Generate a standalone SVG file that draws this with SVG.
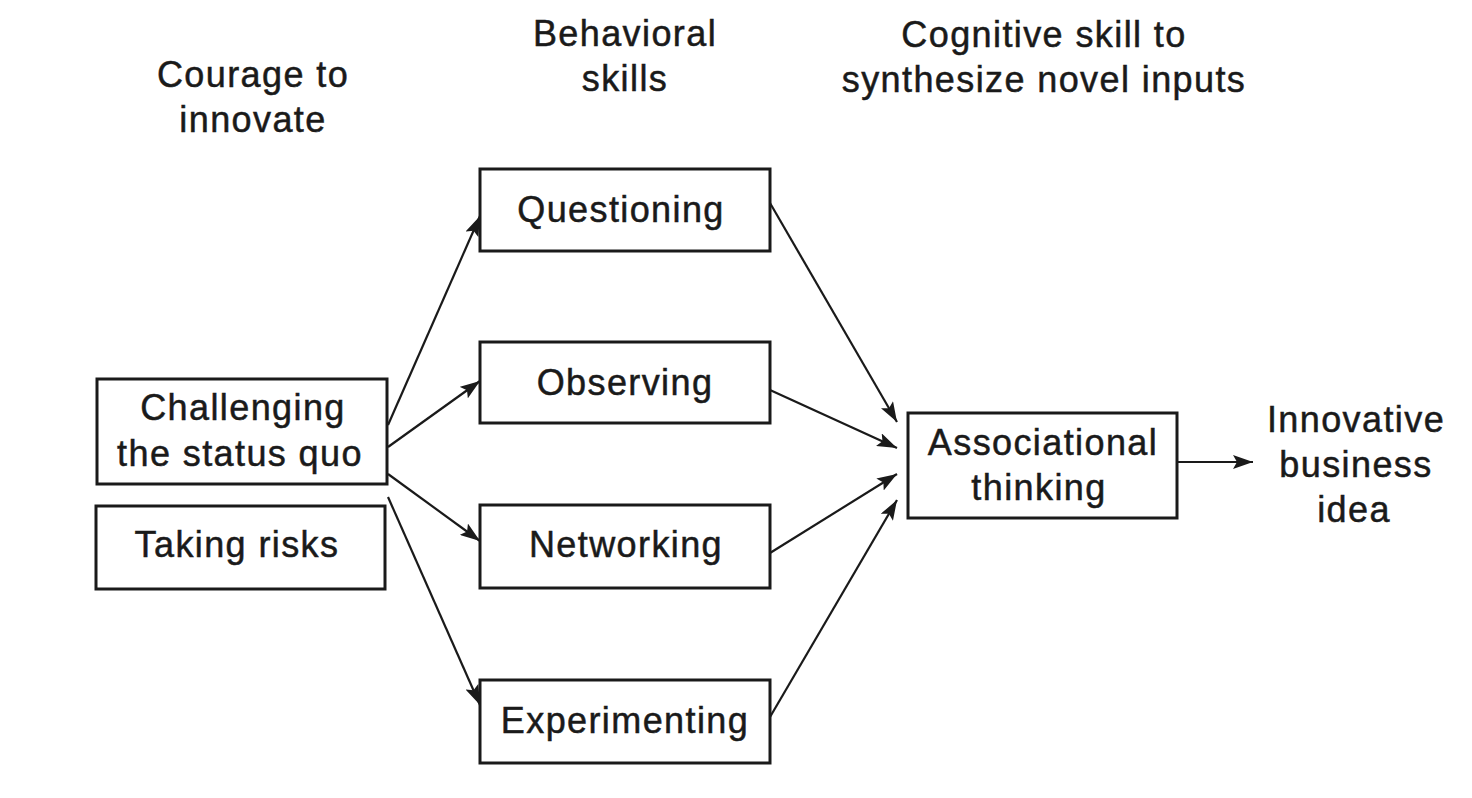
<svg xmlns="http://www.w3.org/2000/svg" width="1472" height="798" viewBox="0 0 1472 798">
<style>
text{font-family:"Liberation Sans",Arial,sans-serif;font-size:36px;letter-spacing:1.4px;fill:#1a1a1a;stroke:#1a1a1a;stroke-width:0.5;text-anchor:middle}
.box{fill:#fff;stroke:#1a1a1a;stroke-width:3}
.c{stroke:#1a1a1a;stroke-width:2.2;fill:none;marker-end:url(#ah)}
</style>
<defs>
<marker id="ah" markerUnits="userSpaceOnUse" markerWidth="22" markerHeight="14" refX="20" refY="7" orient="auto">
<path d="M0,0 L20,7 L0,14 L4,7 Z" fill="#1a1a1a"/>
</marker>
</defs>
<rect width="1472" height="798" fill="#fff"/>
<g id="titles">
<text x="253" y="87">Courage to</text>
<text x="253" y="132">innovate</text>
<text x="625" y="46">Behavioral</text>
<text x="625" y="91">skills</text>
<text x="1044" y="47">Cognitive skill to</text>
<text x="1044" y="92">synthesize novel inputs</text>
</g>
<g id="connectors">
<line class="c" x1="388" y1="425" x2="480" y2="216"/>
<line class="c" x1="388" y1="447" x2="480" y2="381"/>
<line class="c" x1="388" y1="474" x2="480" y2="541"/>
<line class="c" x1="388" y1="497" x2="480" y2="705"/>
<line class="c" x1="770" y1="203" x2="897" y2="422"/>
<line class="c" x1="770" y1="390" x2="897" y2="448"/>
<line class="c" x1="770" y1="553" x2="897" y2="474"/>
<line class="c" x1="770" y1="717" x2="897" y2="500"/>
<line class="c" x1="1178" y1="462" x2="1253" y2="462"/>
</g>
<g id="challenging">
<rect class="box" x="97" y="379" width="290" height="105"/>
<text x="243" y="420">Challenging</text>
<text x="240" y="466">the status quo</text>
</g>
<g id="taking-risks">
<rect class="box" x="96" y="506" width="289" height="83"/>
<text x="237" y="557">Taking risks</text>
</g>
<g id="questioning">
<rect class="box" x="480" y="169" width="290" height="82"/>
<text x="621" y="222">Questioning</text>
</g>
<g id="observing">
<rect class="box" x="480" y="342" width="290" height="81"/>
<text x="625" y="395">Observing</text>
</g>
<g id="networking">
<rect class="box" x="480" y="505" width="290" height="83"/>
<text x="626" y="557">Networking</text>
</g>
<g id="experimenting">
<rect class="box" x="480" y="680" width="290" height="83"/>
<text x="625" y="733">Experimenting</text>
</g>
<g id="associational">
<rect class="box" x="908" y="413" width="269" height="105"/>
<text x="1043" y="455">Associational</text>
<text x="1039" y="500">thinking</text>
</g>
<g id="innovative-idea">
<text x="1356" y="432">Innovative</text>
<text x="1356" y="477">business</text>
<text x="1354" y="522">idea</text>
</g>
</svg>
